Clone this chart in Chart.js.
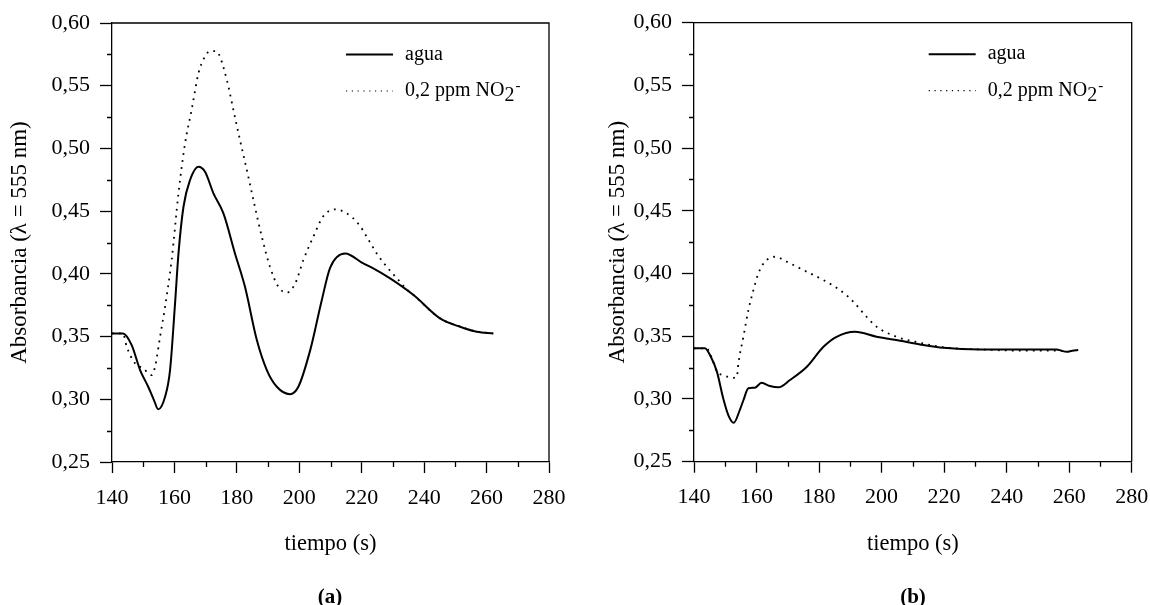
<!DOCTYPE html>
<html>
<head>
<meta charset="utf-8">
<script src="https://cdn.jsdelivr.net/npm/chart.js@4/dist/chart.umd.min.js"></script>
<style>
  html, body { margin: 0; padding: 0; background: #fff; }
  #wrap { position: relative; width: 1150px; height: 605px; overflow: hidden; }
  canvas { position: absolute; top: 0; }
  #chartA { left: 0; }
  #chartB { left: 575px; }
  .cap { position: absolute; top: 596px; transform: translate(-50%, -50%);
         font: bold 21px "Liberation Serif", "Times New Roman", serif; color: #000; line-height: 1; }
</style>
</head>
<body>
<div id="wrap">
  <canvas id="chartA" width="575" height="605"></canvas>
  <canvas id="chartB" width="575" height="605"></canvas>
  <div class="cap" style="left:330px">(a)</div>
  <div class="cap" style="left:913px">(b)</div>
</div>
<script>
// Axis ticks (time in s, absorbance)
const xMajor = [140, 160, 180, 200, 220, 240, 260, 280];
const xMinor = [150, 170, 190, 210, 230, 250, 270];
const yMajor = [0.25, 0.30, 0.35, 0.40, 0.45, 0.50, 0.55, 0.60];
const yMinor = [0.275, 0.325, 0.375, 0.425, 0.475, 0.525, 0.575];

// Panel (a): water blank
const timeAguaA = [140, 143.5, 146.3, 149, 151.6, 153.5, 154.8, 157, 158.6, 160.2, 161.3, 162.9, 165, 167.7,
  169.8, 172.5, 175.7, 179.4, 182.6, 186.4, 189.6, 192.8, 197, 199.7, 203.5, 207.2, 209.9, 214.7, 220.5,
  223.7, 229.1, 236.6, 245.1, 251.5, 256.9, 262.2];
const absAguaA = [0.3525, 0.3525, 0.3432, 0.3233, 0.310, 0.299, 0.292, 0.302, 0.3233, 0.3765, 0.4163, 0.4535,
  0.4748, 0.4854, 0.4814, 0.4642, 0.4482, 0.4163, 0.3897, 0.3472, 0.3233, 0.310, 0.3041, 0.310, 0.3392,
  0.3790, 0.4050, 0.4163, 0.4083, 0.4044, 0.3964, 0.3831, 0.3645, 0.3578, 0.3538, 0.3525];

// Panel (a): 0,2 ppm nitrite
const timeNitA = [140, 143.5, 144.7, 147.4, 150, 152.7, 153.8, 155.4, 157, 159.1, 161.3, 163.4, 165.5, 167.7,
  169.5, 171.4, 173, 174.1, 176.8, 178.9, 181, 183.2, 185.3, 188, 190.6, 193.3, 196, 198.7, 201.3, 204.5,
  207.7, 211.5, 215.2, 219, 221.6, 224.8, 228, 231.3, 234.5, 236.6, 245.1, 251.5, 256.9, 262];
const absNitA = [0.3525, 0.3525, 0.342, 0.3286, 0.3246, 0.3193, 0.326, 0.3498, 0.3738, 0.411, 0.4642, 0.504,
  0.5306, 0.5599, 0.5720, 0.5775, 0.5775, 0.5758, 0.5545, 0.5306, 0.5067, 0.4828, 0.4589, 0.4296, 0.4057,
  0.3897, 0.385, 0.3924, 0.411, 0.4296, 0.446, 0.4514, 0.4482, 0.4397, 0.4296, 0.4163, 0.4057, 0.3964,
  0.3875, 0.3831, 0.3645, 0.3580, 0.3540, 0.3525];

// Panel (b): water blank
const timeAguaB = [140, 143.5, 145.1, 147.3, 149.4, 151, 152.7, 154.7, 155.8, 157.4, 159.5, 161.6, 164.3, 167,
  170.7, 176.1, 181.4, 185.6, 191.5, 198.4, 205.9, 212.3, 219.8, 231.5, 256, 257.5, 259.2, 261, 262.9];
const absAguaB = [0.3404, 0.3404, 0.335, 0.322, 0.300, 0.287, 0.281, 0.2915, 0.299, 0.3085, 0.309, 0.3129,
  0.3103, 0.3093, 0.3151, 0.3257, 0.3416, 0.3496, 0.3536, 0.3496, 0.3464, 0.3435, 0.3408, 0.3395, 0.3395,
  0.3385, 0.3376, 0.3385, 0.339];

// Panel (b): 0,2 ppm nitrite
const timeNitB = [140, 144, 145.5, 147.3, 149.4, 152.6, 153.7, 154.2, 155.8, 157.4, 159, 160.6, 162.7, 165.9,
  169.7, 175, 181.4, 186.7, 191, 194.2, 198.4, 204.8, 212.3, 219.8, 231.5, 245, 257.5];
const absNitB = [0.3404, 0.3404, 0.334, 0.322, 0.319, 0.3169, 0.3175, 0.3284, 0.3496, 0.3709, 0.3868, 0.4002,
  0.4094, 0.4134, 0.4094, 0.4028, 0.3948, 0.3868, 0.3775, 0.3683, 0.3576, 0.3496, 0.3448, 0.3412, 0.3395,
  0.3385, 0.3385];

// Legend entries: [text, role]
const keyAgua = [['agua', 'text']];
const keyNitrito = [['0,2 ppm NO', 'text'], ['2', 'sub'], ['-', 'sup']];

const SERIF = '"Liberation Serif", "Times New Roman", serif';
Chart.defaults.font.family = SERIF;
Chart.defaults.color = '#000';

const toPoints = (xs, ys) => xs.map((x, i) => ({ x, y: ys[i] }));
const fmt = v => v.toFixed(2).replace('.', ',');

// Minor ticks and the top/right frame of the plot box
const frameAndMinor = {
  id: 'frameAndMinor',
  afterDraw(chart) {
    const { ctx, chartArea: a, scales: { x, y } } = chart;
    ctx.save();
    ctx.strokeStyle = '#000';
    ctx.lineWidth = 1.3;
    ctx.beginPath();
    xMinor.forEach(v => {
      const px = Math.round(x.getPixelForValue(v)) + 0.5;
      ctx.moveTo(px, a.bottom); ctx.lineTo(px, a.bottom + 5);
    });
    yMinor.forEach(v => {
      const py = Math.round(y.getPixelForValue(v)) + 0.5;
      ctx.moveTo(a.left - 5, py); ctx.lineTo(a.left, py);
    });
    ctx.moveTo(a.left, a.top); ctx.lineTo(a.right, a.top); ctx.lineTo(a.right, a.bottom);
    ctx.stroke();
    ctx.restore();
  }
};

// Legend inside the upper right corner of the plot
const curveKey = {
  id: 'curveKey',
  afterDraw(chart) {
    const { ctx, chartArea: a } = chart;
    const x0 = a.right - 203, x1 = x0 + 47, tx = a.right - 144;
    const rows = [a.top + 31.5, a.top + 68];
    chart.data.datasets.forEach((ds, i) => {
      const y = rows[i];
      const dotted = ds.borderDash && ds.borderDash.length;
      ctx.save();
      ctx.strokeStyle = ds.borderColor;
      ctx.lineWidth = dotted ? 1.2 : 2;
      ctx.setLineDash(dotted ? [1.2, 4.6] : []);
      ctx.beginPath(); ctx.moveTo(x0, y); ctx.lineTo(x1, y); ctx.stroke();
      ctx.setLineDash([]);
      ctx.fillStyle = '#000';
      ctx.textBaseline = 'alphabetic';
      ctx.textAlign = 'left';
      const base = y + 5;
      let x = tx;
      ds.keyParts.forEach(([txt, role]) => {
        if (role === 'sub') {
          ctx.font = '20px ' + SERIF;
          ctx.fillText(txt, x, base + 5);
        } else if (role === 'sup') {
          ctx.font = '15px ' + SERIF;
          ctx.fillText(txt, x + 1, base - 6);
        } else {
          ctx.font = '20px ' + SERIF;
          ctx.fillText(txt, x, base);
        }
        x += ctx.measureText(txt).width;
      });
      ctx.restore();
    });
  }
};

function makePanel(canvasId, aguaT, aguaV, nitT, nitV, yAxisWidth, padRight, padTop, xAxisHeight, yTitlePad) {
  return new Chart(document.getElementById(canvasId), {
    type: 'line',
    data: {
      datasets: [
        {
          label: 'agua',
          keyParts: keyAgua,
          data: toPoints(aguaT, aguaV),
          borderColor: '#000',
          borderWidth: 2,
          pointRadius: 0,
          cubicInterpolationMode: 'monotone',
          fill: false
        },
        {
          label: '0,2 ppm NO2-',
          keyParts: keyNitrito,
          data: toPoints(nitT, nitV),
          borderColor: '#000',
          borderWidth: 1.8,
          borderDash: [1.8, 5.2],
          pointRadius: 0,
          cubicInterpolationMode: 'monotone',
          fill: false
        }
      ]
    },
    options: {
      responsive: false,
      animation: false,
      devicePixelRatio: 1,
      layout: { padding: { top: padTop, right: padRight, left: 0, bottom: 0 } },
      plugins: { legend: { display: false }, tooltip: { enabled: false } },
      scales: {
        x: {
          type: 'linear',
          min: 140, max: 280,
          afterBuildTicks: s => { s.ticks = xMajor.map(v => ({ value: v })); },
          afterFit: s => { s.height = xAxisHeight; s.paddingLeft = 0; s.paddingRight = 0; },
          ticks: { font: { size: 22 }, padding: 11.8, color: '#000', callback: v => String(v), maxRotation: 0 },
          grid: { drawOnChartArea: false, drawTicks: true, tickLength: 11, tickColor: '#000', tickWidth: 1.3 },
          border: { display: true, color: '#000', width: 1.3 },
          title: { display: true, text: 'tiempo (s)', font: { size: 22.5 }, color: '#000', padding: { top: 0, bottom: 47.5 } }
        },
        y: {
          type: 'linear',
          min: 0.25, max: 0.60,
          afterBuildTicks: s => { s.ticks = yMajor.map(v => ({ value: v })); },
          afterFit: s => { s.width = yAxisWidth; s.paddingTop = 0; s.paddingBottom = 0; },
          ticks: { font: { size: 22 }, padding: 10, color: '#000', callback: v => fmt(v) },
          grid: { drawOnChartArea: false, drawTicks: true, tickLength: 12, tickColor: '#000', tickWidth: 1.3 },
          border: { display: true, color: '#000', width: 1.3 },
          title: { display: true, text: 'Absorbancia (\u03bb = 555 nm)', font: { size: 23 }, color: '#000', padding: { top: yTitlePad, bottom: 0 } }
        }
      }
    },
    plugins: [frameAndMinor, curveKey]
  });
}

makePanel('chartA', timeAguaA, absAguaA, timeNitA, absNitA, 112, 26, 23, 143, 6.2);
makePanel('chartB', timeAguaB, absAguaB, timeNitB, absNitB, 119, 18.3, 22.7, 143.3, 29.2);
</script>
</body>
</html>
